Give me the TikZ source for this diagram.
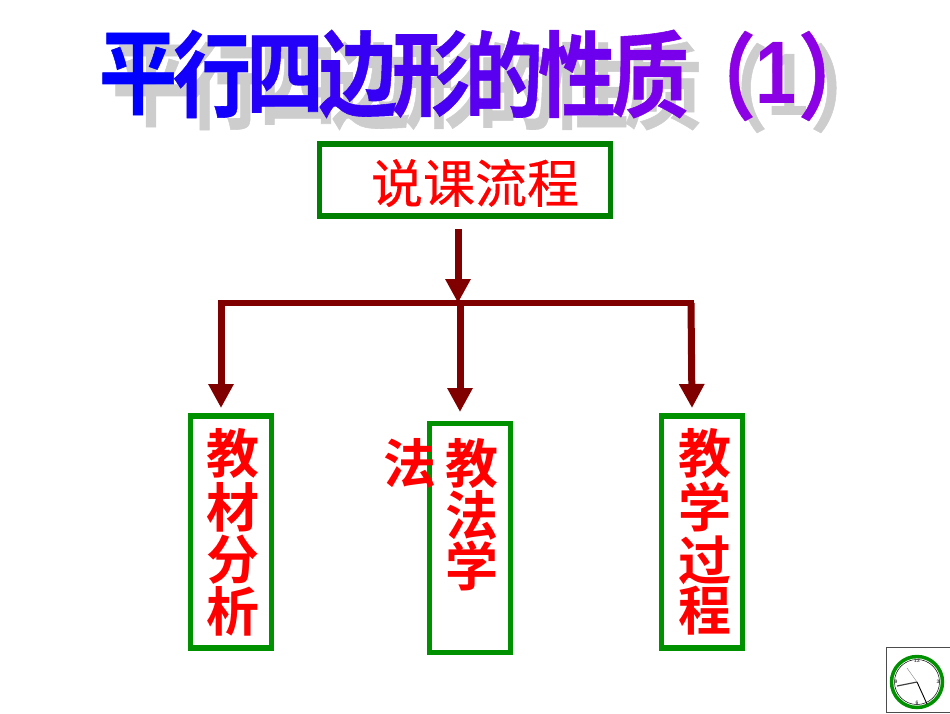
\documentclass[tikz,border=0pt]{standalone}
\usepackage{graphicx}
\usepackage{fontspec}
\setmainfont{Liberation Sans}
\newfontfamily\cjk{Noto Sans CJK SC Bold}
\newfontfamily\cjkm[FakeBold=0.4]{Noto Sans CJK SC}
\newfontfamily\cjkb[FakeBold=0.6]{Noto Sans CJK SC Bold}
\newfontfamily\latinb{Liberation Sans Bold}
\usetikzlibrary{arrows.meta}
\definecolor{dkred}{RGB}{128,0,0}
\definecolor{grn}{RGB}{0,128,0}
\definecolor{brightgrn}{RGB}{0,145,0}
\definecolor{shade}{RGB}{205,205,205}
\tikzset{
 x=1pt,y=-1pt,
 box/.style={draw=#1,line width=5.5pt,fill=white,inner sep=0pt},
 flow/.style={draw=dkred,line width=7pt,-{Triangle[length=24pt,width=24pt]}},
 bar/.style={draw=dkred,line width=6.5pt,line cap=rect},
 vtext/.style={text=red,font=\cjk\fontsize{53}{53}\selectfont,inner sep=0pt},
 ttl/.style={font=\cjkb\fontsize{78}{78}\selectfont,inner sep=0pt},
 ttls/.style={ttl,text=shade},
 clk/.style={font=\fontsize{5}{5}\selectfont\bfseries,inner sep=0pt,text=black!70},
}
\newcommand{\tall}[1]{\scalebox{1}[1.2]{#1}}
\newcommand{\numone}{\tall{\latinb\fontsize{74}{74}\selectfont 1}}
\begin{document}
\begin{tikzpicture}
\useasboundingbox (0,0) rectangle (950,713);
% title shadow
\foreach \n/\px/\c in {1/138/平,2/212/行,3/285/四,4/358/边,5/431/形,6/504/的,7/577/性,8/650/质}{
  \node[ttls] (sh\n) at (\px+13,86) {\tall{\c}};
}
\node[ttls] (shl) at (729,88) {\tall{（}};
\node[ttls] (sh9) at (788,85) {\numone};
\node[ttls] (shr) at (849,88) {\tall{）}};
% title
\definecolor{t1}{RGB}{0,0,255}\definecolor{t2}{RGB}{18,0,250}\definecolor{t3}{RGB}{36,0,248}
\definecolor{t4}{RGB}{54,0,245}\definecolor{t5}{RGB}{72,0,242}\definecolor{t6}{RGB}{90,0,240}
\definecolor{t7}{RGB}{108,0,238}\definecolor{t8}{RGB}{122,0,235}\definecolor{t9}{RGB}{140,0,230}
\foreach \n/\px/\c in {1/138/平,2/212/行,3/285/四,4/358/边,5/431/形,6/504/的,7/577/性,8/650/质}{
  \node[ttl,text=t\n] (ti\n) at (\px,74) {\tall{\c}};
}
\node[ttl,text=t9] (til) at (717,76) {\tall{（}};
\node[ttl,text=t9] (ti9) at (776,73) {\numone};
\node[ttl,text=t9] (tir) at (837,76) {\tall{）}};
% boxes
\node[box=grn,minimum width=291pt,minimum height=72pt] (top) at (465,180) {};
\node[text=red,font=\cjkm\fontsize{52}{52}\selectfont,inner sep=0pt] (toptext) at (475,183) {说课流程};
\node[box=brightgrn,minimum width=81pt,minimum height=232pt] (a) at (231,532) {};
\node[box=brightgrn,minimum width=81pt,minimum height=229pt] (b) at (470,538) {};
\node[box=brightgrn,minimum width=81pt,minimum height=232pt] (c) at (702,532) {};
\node[vtext] (a1) at (233,453) {教};
\node[vtext] (a2) at (233,507) {材};
\node[vtext] (a3) at (233,560) {分};
\node[vtext] (a4) at (233,611) {析};
\node[vtext] (b0) at (410,463) {法};
\node[vtext] (b1) at (472,463) {教};
\node[vtext] (b2) at (472,515) {法};
\node[vtext] (b3) at (472,566) {学};
\node[vtext] (c1) at (705,453) {教};
\node[vtext] (c2) at (705,507) {学};
\node[vtext] (c3) at (705,560) {过};
\node[vtext] (c4) at (705,611) {程};
% connectors
\coordinate (s0) at (458,229);
\coordinate (j0) at (458,303);
\coordinate (jl) at (221,303);
\coordinate (jm) at (460,303);
\coordinate (jr) at (691,303);
\coordinate (al) at (221,408);
\coordinate (am) at (460,412);
\coordinate (ar) at (692,408);
\draw[bar] (jl) -- (jr);
\draw[flow] (s0) -- (j0);
\draw[flow] (jl) -- (al);
\draw[flow] (jm) -- (am);
\draw[flow] (jr) -- (ar);
% clock
\node[draw=black!70,line width=1pt,minimum width=64pt,minimum height=65pt,inner sep=0pt] (frame) at (918,679.5) {};
\node[circle,draw=brightgrn,line width=3.5pt,minimum size=51pt,inner sep=0pt] (dial) at (917,682) {};
\node[circle,draw=black,line width=.5pt,minimum size=45pt,inner sep=0pt] (dial2) at (917,682) {};
\node[clk] (h12) at (917,661) {12};
\node[clk] (h3) at (938,682) {3};
\node[clk] (h6) at (917,703) {6};
\node[clk] (h9) at (896,682) {9};
\coordinate (cc) at (917,682);
\coordinate (hh) at (897,686);
\coordinate (mh) at (927,704);
\coordinate (sh) at (907,668);
\draw[black!75,line width=1.2pt] (cc) -- (hh);
\draw[black,line width=.9pt] (cc) -- (mh);
\draw[black!50,line width=.4pt] (cc) -- (sh);
\end{tikzpicture}
\end{document}
